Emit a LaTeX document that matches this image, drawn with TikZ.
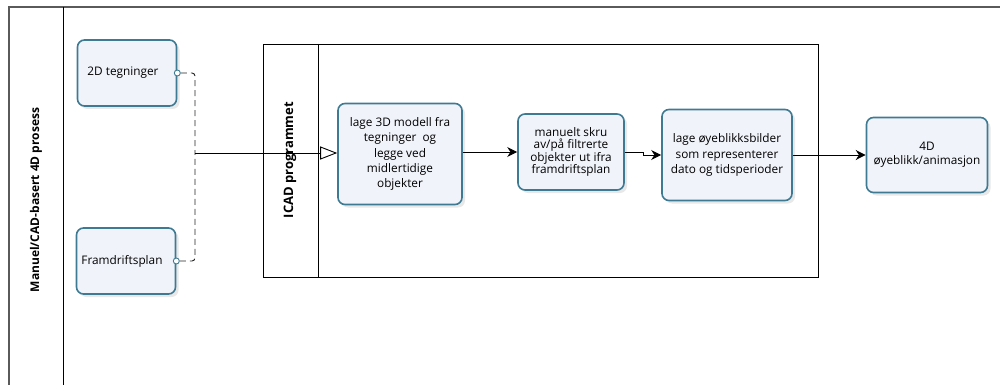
\documentclass[tikz,border=0pt]{standalone}
\usepackage{fontspec}
\setmainfont{Open Sans}
\usetikzlibrary{arrows.meta,shadows}
\definecolor{taskline}{RGB}{62,122,146}
\definecolor{taskfill}{RGB}{240,243,250}
\definecolor{frameline}{RGB}{90,90,90}
\begin{document}
\begin{tikzpicture}[x=1pt, y=-1pt, thick,
    task node/.style={rectangle, rounded corners=7pt, draw=taskline, line width=1.6pt,
        fill=taskfill, align=center, inner sep=2pt,
        drop shadow={shadow xshift=3pt, shadow yshift=-3pt, opacity=0.18, fill=gray},
        font=\fontsize{11.8}{15.4}\selectfont},
    lane label/.style={rotate=90, font=\bfseries\fontsize{12}{14}\selectfont},
    port/.style={circle, draw=taskline, line width=0.9pt, fill=white, inner sep=0pt, minimum size=6pt},
    flow dash/.style={draw=black!85, line width=0.9pt, dash pattern=on 6pt off 4pt, rounded corners=3pt},
    seq/.style={line width=0.9pt, -{Stealth[length=10pt,width=10pt]}}]
    \useasboundingbox (0,0) rectangle (1000,385);

    % pool and lanes
    \draw[frameline, line width=1.2pt] (1000,7) -- (9,7) -- (9,385);
    \draw[line width=0.9pt] (63,7) -- (63,385);
    \node[lane label] at (36,200) (pool) {Manuel/CAD-basert 4D prosess};
    \draw[line width=0.9pt] (263,44) rectangle (818,277);
    \draw[line width=0.9pt] (318,44) -- (318,277);
    \node[lane label, font=\bfseries\fontsize{13}{15}\selectfont] at (290,160) (icad) {ICAD programmet};

    % tasks
    \node[task node, minimum width=99pt, minimum height=66pt] at (127,73) (a) {2D tegninger\hspace*{8pt}};
    \node[task node, minimum width=99pt, minimum height=66pt] at (126,261) (b) {Framdriftsplan\hspace*{8pt}};
    \node[task node, minimum width=124pt, minimum height=101pt] at (400,154) (1)
        {lage 3D modell fra\\tegninger\ \ og\\legge ved\\midlertidige\\objekter};
    \node[task node, minimum width=106pt, minimum height=76pt, font=\fontsize{11.8}{12.6}\selectfont] at (571,152) (2)
        {manuelt skru\\av/på filtrerte\\objekter ut ifra\\framdriftsplan};
    \node[task node, minimum width=130pt, minimum height=91pt] at (727,155) (3)
        {lage øyeblikksbilder\\som representerer\\dato og tidsperioder};
    \node[task node, minimum width=121pt, minimum height=75pt, font=\fontsize{11.8}{14.3}\selectfont] at (927,155) (4)
        {4D\\øyeblikk/animasjon};

    % ports and flows
    \node[port] at (a.east) (pa) {};
    \node[port] at (b.east) (pb) {};
    \coordinate (join) at (195,153);
    \draw[flow dash] (pa.east) -| (join);
    \draw[flow dash] (pb.east) -| (join);
    \draw[line width=0.9pt, -{Triangle[open,length=17pt,width=13pt,line width=0.9pt]}] (join) -- (join -| 1.west);
    \draw[seq] (1.east |- 2) -- (2);
    \draw[seq] (2.east) -- ++(19,0) |- (3.west);
    \draw[seq] (3) -- (4);
\end{tikzpicture}
\end{document}
